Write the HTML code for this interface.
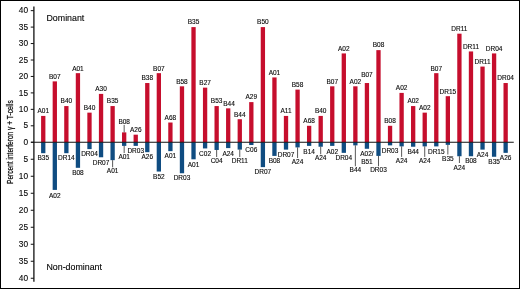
<!DOCTYPE html>
<html><head><meta charset="utf-8"><title>Chart</title>
<style>
html,body{margin:0;padding:0;background:#fff;}
body{width:520px;height:289px;position:relative;overflow:hidden;font-family:"Liberation Sans",sans-serif;}
.t{font-family:"Liberation Sans",sans-serif;fill:#0a0a0a;stroke:#0a0a0a;stroke-width:0.12px;}
</style></head><body>
<svg width="520" height="289" viewBox="0 0 520 289" style="position:absolute;left:0;top:0">
<rect x="0" y="0" width="520" height="289" fill="#fff"/>
<rect x="41.10" y="115.93" width="4.3" height="26.32" fill="#c60e2d"/>
<rect x="52.66" y="81.38" width="4.3" height="60.87" fill="#c60e2d"/>
<rect x="64.22" y="106.06" width="4.3" height="36.19" fill="#c60e2d"/>
<rect x="75.78" y="73.16" width="4.3" height="69.09" fill="#c60e2d"/>
<rect x="87.34" y="112.64" width="4.3" height="29.61" fill="#c60e2d"/>
<rect x="98.90" y="93.89" width="4.3" height="48.36" fill="#c60e2d"/>
<rect x="110.46" y="106.06" width="4.3" height="36.19" fill="#c60e2d"/>
<rect x="122.02" y="132.38" width="4.3" height="9.87" fill="#c60e2d"/>
<rect x="133.58" y="134.68" width="4.3" height="7.57" fill="#c60e2d"/>
<rect x="145.14" y="83.03" width="4.3" height="59.22" fill="#c60e2d"/>
<rect x="156.70" y="73.16" width="4.3" height="69.09" fill="#c60e2d"/>
<rect x="168.26" y="122.51" width="4.3" height="19.74" fill="#c60e2d"/>
<rect x="179.82" y="86.32" width="4.3" height="55.93" fill="#c60e2d"/>
<rect x="191.38" y="27.10" width="4.3" height="115.15" fill="#c60e2d"/>
<rect x="202.94" y="87.64" width="4.3" height="54.61" fill="#c60e2d"/>
<rect x="214.50" y="106.06" width="4.3" height="36.19" fill="#c60e2d"/>
<rect x="226.06" y="108.36" width="4.3" height="33.89" fill="#c60e2d"/>
<rect x="237.62" y="119.22" width="4.3" height="23.03" fill="#c60e2d"/>
<rect x="249.18" y="102.11" width="4.3" height="40.14" fill="#c60e2d"/>
<rect x="260.74" y="27.10" width="4.3" height="115.15" fill="#c60e2d"/>
<rect x="272.30" y="77.44" width="4.3" height="64.81" fill="#c60e2d"/>
<rect x="283.86" y="115.93" width="4.3" height="26.32" fill="#c60e2d"/>
<rect x="295.42" y="89.61" width="4.3" height="52.64" fill="#c60e2d"/>
<rect x="306.98" y="125.80" width="4.3" height="16.45" fill="#c60e2d"/>
<rect x="318.54" y="115.93" width="4.3" height="26.32" fill="#c60e2d"/>
<rect x="330.10" y="86.32" width="4.3" height="55.93" fill="#c60e2d"/>
<rect x="341.66" y="53.42" width="4.3" height="88.83" fill="#c60e2d"/>
<rect x="353.22" y="86.32" width="4.3" height="55.93" fill="#c60e2d"/>
<rect x="364.78" y="83.03" width="4.3" height="59.22" fill="#c60e2d"/>
<rect x="376.34" y="50.13" width="4.3" height="92.12" fill="#c60e2d"/>
<rect x="387.90" y="125.80" width="4.3" height="16.45" fill="#c60e2d"/>
<rect x="399.46" y="92.90" width="4.3" height="49.35" fill="#c60e2d"/>
<rect x="411.02" y="106.06" width="4.3" height="36.19" fill="#c60e2d"/>
<rect x="422.58" y="112.64" width="4.3" height="29.61" fill="#c60e2d"/>
<rect x="434.14" y="73.16" width="4.3" height="69.09" fill="#c60e2d"/>
<rect x="445.70" y="96.19" width="4.3" height="46.06" fill="#c60e2d"/>
<rect x="457.26" y="33.68" width="4.3" height="108.57" fill="#c60e2d"/>
<rect x="468.82" y="51.45" width="4.3" height="90.80" fill="#c60e2d"/>
<rect x="480.38" y="66.58" width="4.3" height="75.67" fill="#c60e2d"/>
<rect x="491.94" y="53.42" width="4.3" height="88.83" fill="#c60e2d"/>
<rect x="503.50" y="83.03" width="4.3" height="59.22" fill="#c60e2d"/>
<rect x="41.10" y="142.25" width="4.3" height="10.94" fill="#0f4c81"/>
<rect x="52.66" y="142.25" width="4.3" height="47.66" fill="#0f4c81"/>
<rect x="64.22" y="142.25" width="4.3" height="10.94" fill="#0f4c81"/>
<rect x="75.78" y="142.25" width="4.3" height="25.56" fill="#0f4c81"/>
<rect x="87.34" y="142.25" width="4.3" height="6.86" fill="#0f4c81"/>
<rect x="98.90" y="142.25" width="4.3" height="15.02" fill="#0f4c81"/>
<rect x="110.46" y="142.25" width="4.3" height="17.91" fill="#0f4c81"/>
<rect x="122.02" y="142.25" width="4.3" height="3.63" fill="#0f4c81"/>
<rect x="133.58" y="142.25" width="4.3" height="3.63" fill="#0f4c81"/>
<rect x="145.14" y="142.25" width="4.3" height="9.92" fill="#0f4c81"/>
<rect x="156.70" y="142.25" width="4.3" height="29.30" fill="#0f4c81"/>
<rect x="168.26" y="142.25" width="4.3" height="8.90" fill="#0f4c81"/>
<rect x="179.82" y="142.25" width="4.3" height="31.00" fill="#0f4c81"/>
<rect x="191.38" y="142.25" width="4.3" height="17.06" fill="#0f4c81"/>
<rect x="202.94" y="142.25" width="4.3" height="6.18" fill="#0f4c81"/>
<rect x="214.50" y="142.25" width="4.3" height="7.71" fill="#0f4c81"/>
<rect x="226.06" y="142.25" width="4.3" height="5.84" fill="#0f4c81"/>
<rect x="237.62" y="142.25" width="4.3" height="7.37" fill="#0f4c81"/>
<rect x="249.18" y="142.25" width="4.3" height="2.78" fill="#0f4c81"/>
<rect x="260.74" y="142.25" width="4.3" height="24.88" fill="#0f4c81"/>
<rect x="272.30" y="142.25" width="4.3" height="13.66" fill="#0f4c81"/>
<rect x="283.86" y="142.25" width="4.3" height="7.37" fill="#0f4c81"/>
<rect x="295.42" y="142.25" width="4.3" height="5.16" fill="#0f4c81"/>
<rect x="306.98" y="142.25" width="4.3" height="3.63" fill="#0f4c81"/>
<rect x="318.54" y="142.25" width="4.3" height="4.48" fill="#0f4c81"/>
<rect x="330.10" y="142.25" width="4.3" height="3.63" fill="#0f4c81"/>
<rect x="341.66" y="142.25" width="4.3" height="10.60" fill="#0f4c81"/>
<rect x="353.22" y="142.25" width="4.3" height="3.12" fill="#0f4c81"/>
<rect x="364.78" y="142.25" width="4.3" height="6.52" fill="#0f4c81"/>
<rect x="376.34" y="142.25" width="4.3" height="13.66" fill="#0f4c81"/>
<rect x="387.90" y="142.25" width="4.3" height="3.12" fill="#0f4c81"/>
<rect x="399.46" y="142.25" width="4.3" height="4.14" fill="#0f4c81"/>
<rect x="411.02" y="142.25" width="4.3" height="4.48" fill="#0f4c81"/>
<rect x="422.58" y="142.25" width="4.3" height="4.14" fill="#0f4c81"/>
<rect x="434.14" y="142.25" width="4.3" height="4.14" fill="#0f4c81"/>
<rect x="445.70" y="142.25" width="4.3" height="2.61" fill="#0f4c81"/>
<rect x="457.26" y="142.25" width="4.3" height="14.00" fill="#0f4c81"/>
<rect x="468.82" y="142.25" width="4.3" height="14.00" fill="#0f4c81"/>
<rect x="480.38" y="142.25" width="4.3" height="7.37" fill="#0f4c81"/>
<rect x="491.94" y="142.25" width="4.3" height="14.51" fill="#0f4c81"/>
<rect x="503.50" y="142.25" width="4.3" height="10.60" fill="#0f4c81"/>
<line x1="33.9" y1="6.5" x2="33.9" y2="281.75" stroke="#111" stroke-width="1.3"/>
<line x1="31" y1="142.25" x2="513.75" y2="142.25" stroke="#111" stroke-width="1.05"/>
<line x1="30.75" y1="142.25" x2="33.9" y2="142.25" stroke="#111" stroke-width="1.0"/>
<text x="28.0" y="144.85" text-anchor="end" font-size="8.3" class="t">0</text>
<line x1="30.75" y1="125.80" x2="33.9" y2="125.80" stroke="#111" stroke-width="1.0"/>
<text x="28.0" y="128.40" text-anchor="end" font-size="8.3" class="t">5</text>
<line x1="30.75" y1="159.25" x2="33.9" y2="159.25" stroke="#111" stroke-width="1.0"/>
<text x="28.0" y="161.85" text-anchor="end" font-size="8.3" class="t">5</text>
<line x1="30.75" y1="109.35" x2="33.9" y2="109.35" stroke="#111" stroke-width="1.0"/>
<text x="28.0" y="111.95" text-anchor="end" font-size="8.3" class="t">10</text>
<line x1="30.75" y1="176.25" x2="33.9" y2="176.25" stroke="#111" stroke-width="1.0"/>
<text x="28.0" y="178.85" text-anchor="end" font-size="8.3" class="t">10</text>
<line x1="30.75" y1="92.90" x2="33.9" y2="92.90" stroke="#111" stroke-width="1.0"/>
<text x="28.0" y="95.50" text-anchor="end" font-size="8.3" class="t">15</text>
<line x1="30.75" y1="193.25" x2="33.9" y2="193.25" stroke="#111" stroke-width="1.0"/>
<text x="28.0" y="195.85" text-anchor="end" font-size="8.3" class="t">15</text>
<line x1="30.75" y1="76.45" x2="33.9" y2="76.45" stroke="#111" stroke-width="1.0"/>
<text x="28.0" y="79.05" text-anchor="end" font-size="8.3" class="t">20</text>
<line x1="30.75" y1="210.25" x2="33.9" y2="210.25" stroke="#111" stroke-width="1.0"/>
<text x="28.0" y="212.85" text-anchor="end" font-size="8.3" class="t">20</text>
<line x1="30.75" y1="60.00" x2="33.9" y2="60.00" stroke="#111" stroke-width="1.0"/>
<text x="28.0" y="62.60" text-anchor="end" font-size="8.3" class="t">25</text>
<line x1="30.75" y1="227.25" x2="33.9" y2="227.25" stroke="#111" stroke-width="1.0"/>
<text x="28.0" y="229.85" text-anchor="end" font-size="8.3" class="t">25</text>
<line x1="30.75" y1="43.55" x2="33.9" y2="43.55" stroke="#111" stroke-width="1.0"/>
<text x="28.0" y="46.15" text-anchor="end" font-size="8.3" class="t">30</text>
<line x1="30.75" y1="244.25" x2="33.9" y2="244.25" stroke="#111" stroke-width="1.0"/>
<text x="28.0" y="246.85" text-anchor="end" font-size="8.3" class="t">30</text>
<line x1="30.75" y1="27.10" x2="33.9" y2="27.10" stroke="#111" stroke-width="1.0"/>
<text x="28.0" y="29.70" text-anchor="end" font-size="8.3" class="t">35</text>
<line x1="30.75" y1="261.25" x2="33.9" y2="261.25" stroke="#111" stroke-width="1.0"/>
<text x="28.0" y="263.85" text-anchor="end" font-size="8.3" class="t">35</text>
<line x1="30.75" y1="10.65" x2="33.9" y2="10.65" stroke="#111" stroke-width="1.0"/>
<text x="28.0" y="13.25" text-anchor="end" font-size="8.3" class="t">40</text>
<line x1="30.75" y1="278.25" x2="33.9" y2="278.25" stroke="#111" stroke-width="1.0"/>
<text x="28.0" y="280.85" text-anchor="end" font-size="8.3" class="t">40</text>
<text x="43.25" y="113.28" text-anchor="middle" font-size="6.5" class="t">A01</text>
<text x="54.81" y="78.73" text-anchor="middle" font-size="6.5" class="t">B07</text>
<text x="66.37" y="103.41" text-anchor="middle" font-size="6.5" class="t">B40</text>
<text x="77.93" y="70.51" text-anchor="middle" font-size="6.5" class="t">A01</text>
<text x="89.49" y="109.99" text-anchor="middle" font-size="6.5" class="t">B40</text>
<text x="101.05" y="91.24" text-anchor="middle" font-size="6.5" class="t">A30</text>
<text x="112.61" y="103.41" text-anchor="middle" font-size="6.5" class="t">B35</text>
<line x1="124.17" y1="132.38" x2="124.17" y2="124.88" stroke="#111" stroke-width="0.7"/>
<text x="124.17" y="123.78" text-anchor="middle" font-size="6.5" class="t">B08</text>
<text x="135.73" y="132.03" text-anchor="middle" font-size="6.5" class="t">A26</text>
<text x="147.29" y="80.38" text-anchor="middle" font-size="6.5" class="t">B38</text>
<text x="158.85" y="70.51" text-anchor="middle" font-size="6.5" class="t">B07</text>
<text x="170.41" y="119.86" text-anchor="middle" font-size="6.5" class="t">A68</text>
<text x="181.97" y="83.67" text-anchor="middle" font-size="6.5" class="t">B58</text>
<text x="193.53" y="24.45" text-anchor="middle" font-size="6.5" class="t">B35</text>
<text x="205.09" y="84.99" text-anchor="middle" font-size="6.5" class="t">B27</text>
<text x="216.65" y="103.41" text-anchor="middle" font-size="6.5" class="t">B53</text>
<text x="229.01" y="105.71" text-anchor="middle" font-size="6.5" class="t">B44</text>
<text x="239.77" y="116.57" text-anchor="middle" font-size="6.5" class="t">B44</text>
<text x="251.33" y="99.46" text-anchor="middle" font-size="6.5" class="t">A29</text>
<text x="262.89" y="24.45" text-anchor="middle" font-size="6.5" class="t">B50</text>
<text x="274.45" y="74.79" text-anchor="middle" font-size="6.5" class="t">A01</text>
<text x="286.01" y="113.28" text-anchor="middle" font-size="6.5" class="t">A11</text>
<text x="297.57" y="86.96" text-anchor="middle" font-size="6.5" class="t">B58</text>
<text x="309.13" y="123.15" text-anchor="middle" font-size="6.5" class="t">A68</text>
<text x="320.69" y="113.28" text-anchor="middle" font-size="6.5" class="t">B40</text>
<text x="332.25" y="83.67" text-anchor="middle" font-size="6.5" class="t">B07</text>
<text x="343.81" y="50.77" text-anchor="middle" font-size="6.5" class="t">A02</text>
<text x="355.37" y="83.67" text-anchor="middle" font-size="6.5" class="t">A02</text>
<text x="366.93" y="77.48" text-anchor="middle" font-size="6.5" class="t">B07</text>
<text x="378.49" y="47.48" text-anchor="middle" font-size="6.5" class="t">B08</text>
<text x="390.05" y="123.15" text-anchor="middle" font-size="6.5" class="t">B08</text>
<text x="401.61" y="90.25" text-anchor="middle" font-size="6.5" class="t">A02</text>
<text x="413.17" y="103.41" text-anchor="middle" font-size="6.5" class="t">A02</text>
<text x="424.73" y="109.99" text-anchor="middle" font-size="6.5" class="t">A02</text>
<text x="436.29" y="70.51" text-anchor="middle" font-size="6.5" class="t">B07</text>
<text x="447.85" y="93.54" text-anchor="middle" font-size="6.5" class="t">DR15</text>
<text x="459.41" y="31.03" text-anchor="middle" font-size="6.5" class="t">DR11</text>
<text x="470.97" y="48.80" text-anchor="middle" font-size="6.5" class="t">DR11</text>
<text x="482.53" y="63.93" text-anchor="middle" font-size="6.5" class="t">DR11</text>
<text x="494.09" y="50.77" text-anchor="middle" font-size="6.5" class="t">DR04</text>
<text x="505.65" y="80.38" text-anchor="middle" font-size="6.5" class="t">DR04</text>
<text x="43.25" y="159.99" text-anchor="middle" font-size="6.5" class="t">B35</text>
<text x="54.81" y="197.51" text-anchor="middle" font-size="6.5" class="t">A02</text>
<text x="66.37" y="160.19" text-anchor="middle" font-size="6.5" class="t">DR14</text>
<text x="77.93" y="175.41" text-anchor="middle" font-size="6.5" class="t">B08</text>
<text x="89.49" y="156.21" text-anchor="middle" font-size="6.5" class="t">DR04</text>
<text x="101.05" y="164.87" text-anchor="middle" font-size="6.5" class="t">DR07</text>
<line x1="112.61" y1="160.16" x2="112.61" y2="167.30" stroke="#111" stroke-width="0.7"/>
<text x="112.61" y="173.10" text-anchor="middle" font-size="6.5" class="t">A01</text>
<line x1="124.17" y1="145.88" x2="124.17" y2="153.00" stroke="#111" stroke-width="0.7"/>
<text x="124.17" y="159.20" text-anchor="middle" font-size="6.5" class="t">A01</text>
<text x="135.73" y="153.48" text-anchor="middle" font-size="6.5" class="t">DR03</text>
<text x="147.29" y="159.17" text-anchor="middle" font-size="6.5" class="t">A26</text>
<text x="158.85" y="179.15" text-anchor="middle" font-size="6.5" class="t">B52</text>
<text x="170.41" y="158.35" text-anchor="middle" font-size="6.5" class="t">A01</text>
<text x="181.97" y="180.35" text-anchor="middle" font-size="6.5" class="t">DR03</text>
<text x="193.53" y="166.91" text-anchor="middle" font-size="6.5" class="t">A01</text>
<text x="205.09" y="156.03" text-anchor="middle" font-size="6.5" class="t">C02</text>
<line x1="216.65" y1="149.96" x2="216.65" y2="157.00" stroke="#111" stroke-width="0.7"/>
<text x="216.65" y="163.20" text-anchor="middle" font-size="6.5" class="t">C04</text>
<text x="228.21" y="155.69" text-anchor="middle" font-size="6.5" class="t">A24</text>
<line x1="239.77" y1="149.62" x2="239.77" y2="157.00" stroke="#111" stroke-width="0.7"/>
<text x="239.77" y="163.20" text-anchor="middle" font-size="6.5" class="t">DR11</text>
<text x="251.33" y="152.13" text-anchor="middle" font-size="6.5" class="t">C06</text>
<text x="262.89" y="174.03" text-anchor="middle" font-size="6.5" class="t">DR07</text>
<text x="274.45" y="162.81" text-anchor="middle" font-size="6.5" class="t">B08</text>
<text x="286.01" y="157.22" text-anchor="middle" font-size="6.5" class="t">DR07</text>
<line x1="297.57" y1="147.41" x2="297.57" y2="158.00" stroke="#111" stroke-width="0.7"/>
<text x="297.57" y="164.20" text-anchor="middle" font-size="6.5" class="t">A24</text>
<text x="309.13" y="153.88" text-anchor="middle" font-size="6.5" class="t">B14</text>
<line x1="320.69" y1="146.73" x2="320.69" y2="154.25" stroke="#111" stroke-width="0.7"/>
<text x="320.69" y="160.45" text-anchor="middle" font-size="6.5" class="t">A24</text>
<text x="332.25" y="153.88" text-anchor="middle" font-size="6.5" class="t">A02</text>
<text x="343.81" y="160.45" text-anchor="middle" font-size="6.5" class="t">DR04</text>
<line x1="355.37" y1="145.37" x2="355.37" y2="166.25" stroke="#111" stroke-width="0.7"/>
<text x="355.37" y="172.45" text-anchor="middle" font-size="6.5" class="t">B44</text>
<text x="366.93" y="156.37" text-anchor="middle" font-size="6.5" class="t">A02/</text>
<text x="366.93" y="164.37" text-anchor="middle" font-size="6.5" class="t">B51</text>
<line x1="378.49" y1="155.91" x2="378.49" y2="166.25" stroke="#111" stroke-width="0.7"/>
<text x="378.49" y="172.45" text-anchor="middle" font-size="6.5" class="t">DR03</text>
<text x="390.05" y="152.97" text-anchor="middle" font-size="6.5" class="t">DR03</text>
<line x1="401.61" y1="146.39" x2="401.61" y2="156.90" stroke="#111" stroke-width="0.7"/>
<text x="401.61" y="163.40" text-anchor="middle" font-size="6.5" class="t">A24</text>
<text x="413.17" y="154.33" text-anchor="middle" font-size="6.5" class="t">B44</text>
<line x1="424.73" y1="146.39" x2="424.73" y2="156.90" stroke="#111" stroke-width="0.7"/>
<text x="424.73" y="163.40" text-anchor="middle" font-size="6.5" class="t">A24</text>
<text x="436.29" y="153.99" text-anchor="middle" font-size="6.5" class="t">DR15</text>
<line x1="447.85" y1="144.86" x2="447.85" y2="154.50" stroke="#111" stroke-width="0.7"/>
<text x="447.85" y="160.70" text-anchor="middle" font-size="6.5" class="t">B35</text>
<line x1="459.41" y1="156.25" x2="459.41" y2="163.00" stroke="#111" stroke-width="0.7"/>
<text x="459.41" y="169.80" text-anchor="middle" font-size="6.5" class="t">A24</text>
<text x="470.97" y="163.25" text-anchor="middle" font-size="6.5" class="t">B08</text>
<text x="482.53" y="156.92" text-anchor="middle" font-size="6.5" class="t">A24</text>
<text x="494.09" y="163.86" text-anchor="middle" font-size="6.5" class="t">B35</text>
<text x="505.65" y="160.10" text-anchor="middle" font-size="6.5" class="t">A26</text>
<text transform="translate(46.5,20.9) scale(0.94,1)" font-size="9.4" class="t" style="fill:#000">Dominant</text>
<text transform="translate(46.5,269.7) scale(0.94,1)" font-size="9.4" class="t" style="fill:#000">Non-dominant</text>
<text transform="translate(13.4,184) rotate(-90)" font-size="9.2" class="t" textLength="83.8" lengthAdjust="spacingAndGlyphs" style="stroke-width:0.25px">Percent interferon γ + T-cells</text>
<rect x="0.5" y="0.5" width="519" height="288" fill="none" stroke="#000" stroke-width="1"/>
</svg>
</body></html>
